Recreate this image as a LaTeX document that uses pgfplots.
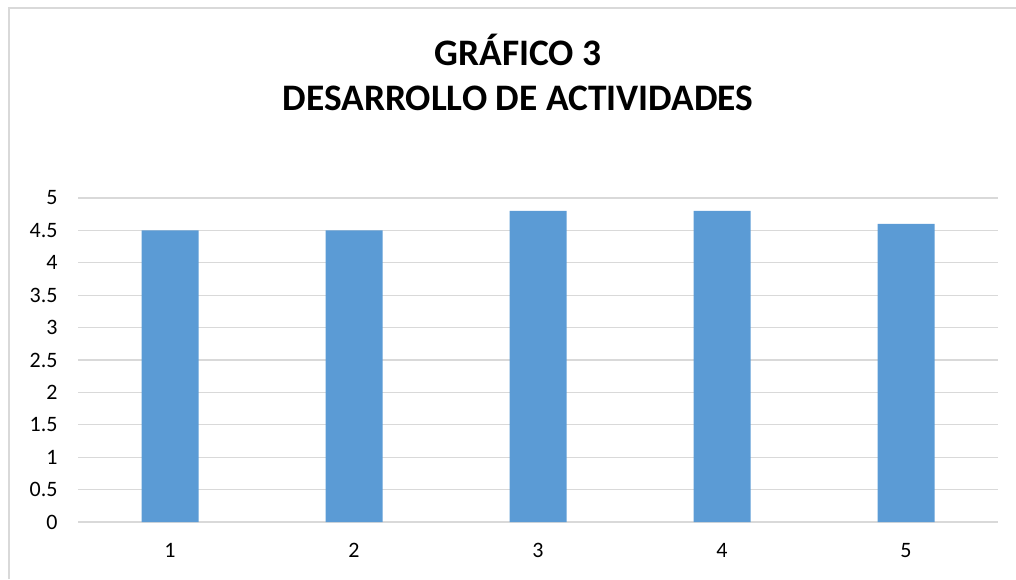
\documentclass[border=0pt]{standalone}
\usepackage{pgfplots}
\pgfplotsset{compat=1.18}
\usepackage{fontspec}
\setmainfont{Carlito}
\definecolor{barblue}{HTML}{5B9BD5}
\definecolor{gridgray}{HTML}{D9D9D9}
\begin{document}
\begin{tikzpicture}[x=1pt,y=1pt]
\path[use as bounding box] (0,0) rectangle (1016,579);
\draw[gridgray, line width=1.2pt] (9,0) -- (9,571) -- (1016,571);
\node[font=\bfseries\fontsize{37.4}{45}\selectfont, align=center] at (518,507) {GRÁFICO 3\\DESARROLLO DE ACTIVIDADES};
\begin{axis}[
  at={(78pt,57pt)}, anchor=south west, scale only axis,
  width=920pt, height=324pt,
  xmin=0.5, xmax=5.5, ymin=0, ymax=5,
  ytick={0,0.5,1,1.5,2,2.5,3,3.5,4,4.5,5},
  xtick={1,2,3,4,5},
  ymajorgrids, major grid style={gridgray, line width=1.2pt},
  axis line style={draw=none},
  major tick length=0pt,
  /pgf/number format/assume math mode=true,
  tick label style={font=\fontsize{22}{26}\selectfont, text=black},
  yticklabel style={anchor=east, xshift=-17pt},
  xticklabel style={anchor=north, yshift=-18pt},
  ybar, bar width=57pt,
]
\addplot[fill=barblue, draw=none] coordinates {(1,4.5) (2,4.5) (3,4.8) (4,4.8) (5,4.6)};
\end{axis}
\end{tikzpicture}
\end{document}
